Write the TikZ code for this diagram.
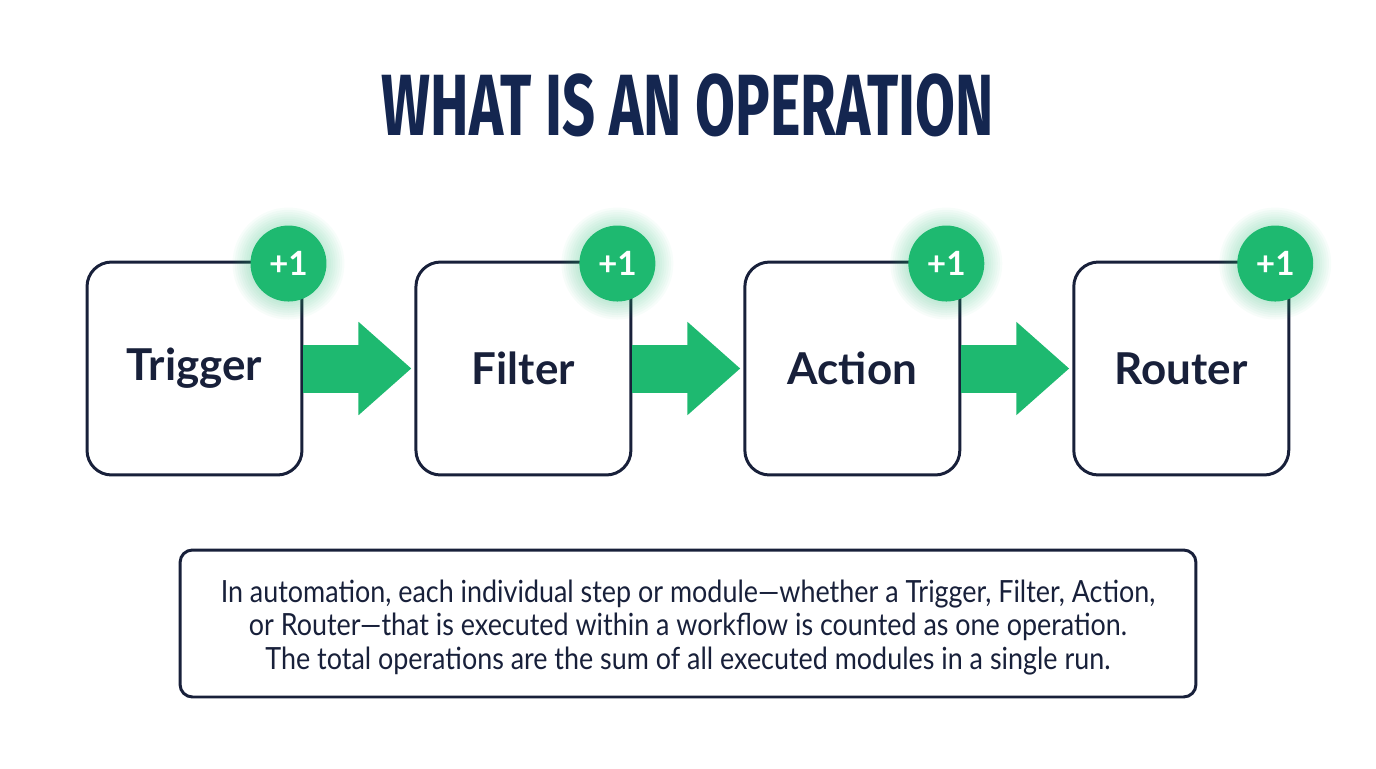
\documentclass[tikz,border=0pt]{standalone}
\usepackage{fontspec}
\setmainfont{Lato}
\newfontfamily\titlefont[FakeStretch=0.665]{Fira Sans}
\newfontfamily\notefont[FakeStretch=0.88]{Lato}
\usetikzlibrary{arrows.meta,positioning}
\definecolor{titlenavy}{RGB}{20,38,80}
\definecolor{boxline}{RGB}{24,32,58}
\definecolor{opgreen}{RGB}{30,185,112}
\tikzset{
  stepbox/.style={rectangle,rounded corners=14pt,draw=boxline,line width=1.7pt,fill=white,
    minimum width=4.3cm,minimum height=4.26cm,text=boxline,
    font=\fontsize{25}{30}\selectfont\bfseries},
  badge/.style={circle,fill=opgreen,minimum size=1.52cm,inner sep=0pt,text=white,
    font=\fontsize{19}{22}\selectfont\bfseries},
  flowarr/.style={-{Triangle[length=1.06cm,width=1.8cm]},line width=0.96cm,draw=opgreen,
    shorten >=0.06cm},
  notebox/.style={rectangle,rounded corners=7pt,draw=boxline,line width=1.7pt,
    minimum width=20.32cm,minimum height=2.94cm},
  notetxt/.style={align=center,text=boxline,font=\notefont\fontsize{17.4}{19.2}\selectfont}
}

\begin{document}
\begin{tikzpicture}[x=0.02cm,y=-0.02cm]
  \useasboundingbox (0,0) rectangle (1376,768);

  %% Title
  \node[text=titlenavy,font=\titlefont\bfseries\fontsize{49.5}{56}\selectfont] (title) at (688,105)
    {WHAT IS AN OPERATION};

  %% Steps of one run
  \node[stepbox] (trig) at (194.5,368.5) {Trigger};
  \node[stepbox,right=2.22cm of trig] (filt) {Filter};
  \node[stepbox,right=2.22cm of filt] (act) {Action};
  \node[stepbox,right=2.22cm of act] (rout) {Router};

  %% +1 badges with a soft glow
  \foreach \s/\b in {trig/btrig,filt/bfilt,act/bact,rout/brout}{
    \coordinate (\b) at ([xshift=-0.3cm,yshift=-0.06cm]\s.north east);
    \foreach \k in {1,...,8}
      \fill[opgreen,opacity=0.035] (\b) circle ({0.76cm+\k*0.045cm});
    \node[badge] at (\b) {+1};
  }

  %% Arrows
  \draw[flowarr] (trig.east) -- (filt.west);
  \draw[flowarr] (filt.east) -- (act.west);
  \draw[flowarr] (act.east) -- (rout.west);

  %% Explanation
  \node[notebox] (note) at (688,623.5) {};
  \node[notetxt] (notetext) at ([yshift=-0.08cm]note.center)
    {In automation, each individual step or module—whether a Trigger, Filter, Action,\\
     or Router—that is executed within a workflow is counted as one operation.\\
     The total operations are the sum of all executed modules in a single run.};
\end{tikzpicture}
\end{document}
